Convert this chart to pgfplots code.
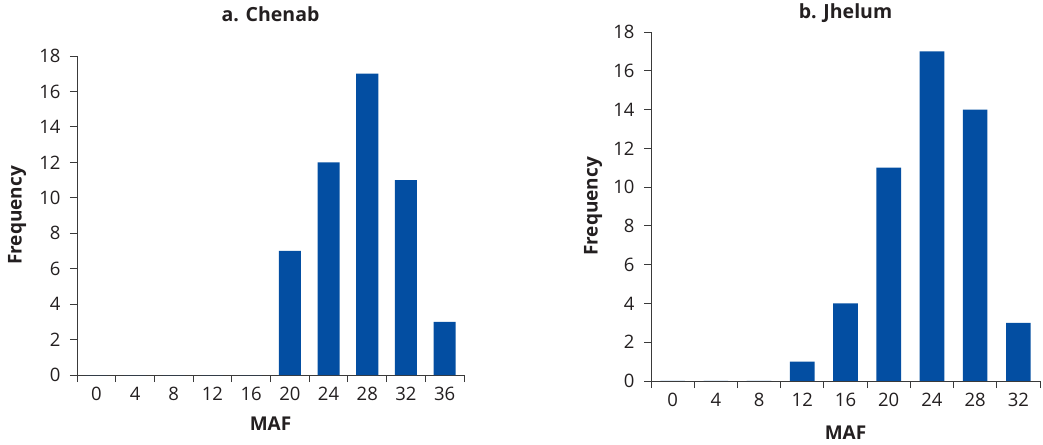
\documentclass[border=0pt]{standalone}
\usepackage{pgfplots}
\pgfplotsset{compat=1.18}
\usepackage{fontspec}
\setmainfont{Open Sans}
\definecolor{barblue}{HTML}{034EA2}
\definecolor{axgray}{HTML}{3A3A3A}
\definecolor{txt}{HTML}{231F20}
\pgfplotsset{
  myaxis/.style={
    scale only axis,
    anchor=south west,
    ybar,
    bar width=0.57,
    ymin=0, ymax=18, ytick={0,2,...,18},
    axis lines=left,
    axis line style={-,draw=axgray,line width=0.9pt},
    tick style={draw=axgray,line width=0.9pt},
    tick align=outside,
    major tick length=7pt,
    xticklabels={},
    extra x tick style={major tick length=0pt},
    tick label style={font=\fontsize{18.5}{20}\selectfont, text=txt},
    /pgf/number format/assume math mode=true,
    label style={font=\bfseries\fontsize{19}{21}\selectfont, text=txt},
    title style={font=\bfseries\fontsize{19.5}{21}\selectfont, text=txt},
    xlabel={MAF}, ylabel={Frequency},
    xlabel style={anchor=center},
    ylabel style={anchor=center},
    yticklabel style={xshift=-6pt},
    xticklabel style={yshift=-9pt},
  }
}
\begin{document}
\begin{tikzpicture}
\path[use as bounding box] (0,0) rectangle (1043pt,444pt);
\begin{axis}[myaxis,
  at={(77pt,69pt)}, width=387pt, height=319pt,
  xmin=-0.5, xmax=9.5,
  xtick={-0.5,0.5,...,9.5},
  extra x ticks={0,1,...,9},
  extra x tick labels={0,4,8,12,16,20,24,28,32,36},
  title={a. Chenab},
  title style={at={(axis description cs:0.5,1.113)}, anchor=center},
  xlabel style={at={(axis description cs:0.5,-0.154)}},
  ylabel style={at={(axis description cs:-0.155,0.5)}},
]
\addplot[fill=barblue, draw=none] coordinates {
 (0,0) (1,0) (2,0) (3,0) (4,0) (5,7) (6,12) (7,17) (8,11) (9,3)};
\end{axis}
\begin{axis}[myaxis,
  at={(651pt,63pt)}, width=389pt, height=349pt,
  xmin=-0.5, xmax=8.5,
  xtick={-0.5,0.5,...,8.5},
  extra x ticks={0,1,...,8},
  extra x tick labels={0,4,8,12,16,20,24,28,32},
  title={b. Jhelum},
  title style={at={(axis description cs:0.5,1.037)}, anchor=center},
  xlabel style={at={(axis description cs:0.5,-0.149)}},
  ylabel style={at={(axis description cs:-0.149,0.5)}},
]
\addplot[fill=barblue, draw=none] coordinates {
 (0,0) (1,0) (2,0) (3,1) (4,4) (5,11) (6,17) (7,14) (8,3)};
\end{axis}
\end{tikzpicture}
\end{document}
